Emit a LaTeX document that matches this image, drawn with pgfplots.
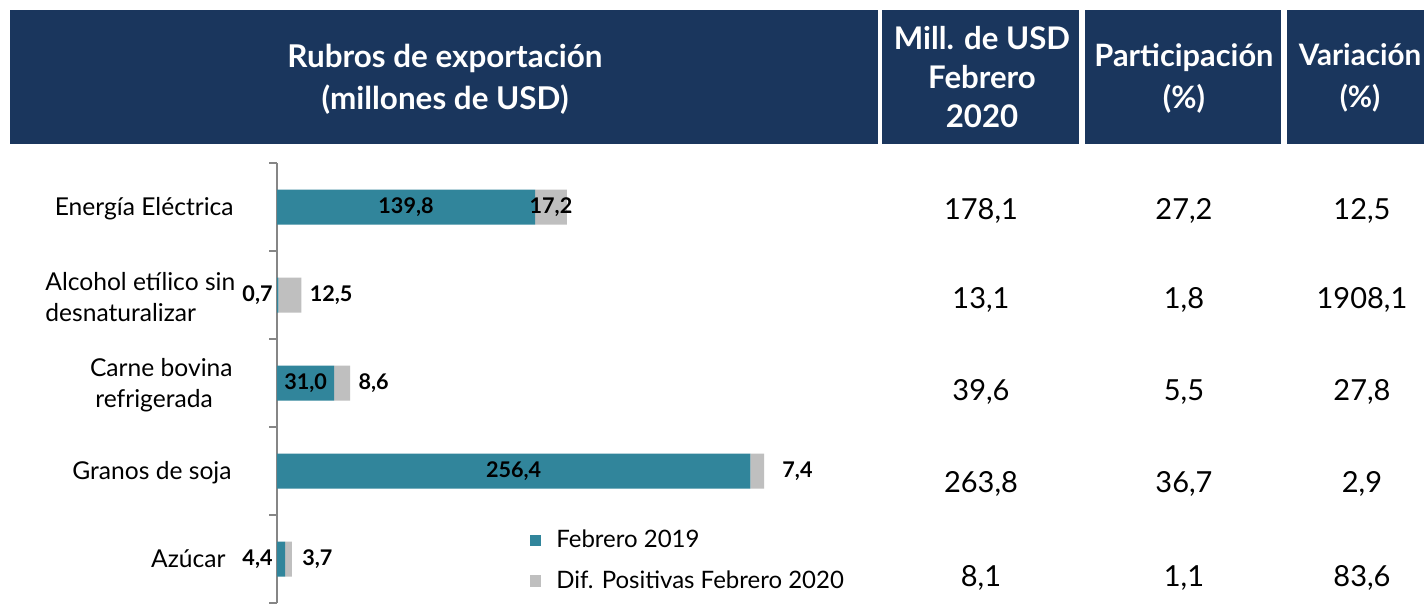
\documentclass[border=0pt]{standalone}
\usepackage{fontspec}
\setmainfont{Lato}
\usepackage{pgfplots}
\pgfplotsset{compat=1.18}
\definecolor{navy}{RGB}{26,54,93}
\definecolor{tealbar}{RGB}{49,133,155}
\definecolor{greybar}{RGB}{191,191,191}
\definecolor{axisgrey}{RGB}{134,134,134}
\tikzset{barlbl/.style={font=\bfseries\fontsize{10.8}{12}\selectfont, inner sep=0pt}}
\begin{document}
\begin{tikzpicture}
% pixel grid: 1px = 0.5pt, y downwards
\begin{scope}[x=0.5pt,y=-0.5pt]
\useasboundingbox (0,0) rectangle (1424,600);
\fill[white] (0,0) rectangle (1424,600);
\fill[navy] (10,10) rectangle (878,144);
\fill[navy] (882,10) rectangle (1079,144);
\fill[navy] (1085,10) rectangle (1281,144);
\fill[navy] (1287,10) rectangle (1440,144);
\node[white,font=\bfseries\fontsize{15.7}{21}\selectfont,align=center] at (445,79) {Rubros de exportación\\(millones de USD)};
\node[white,font=\bfseries\fontsize{15.6}{19.5}\selectfont,align=center] at (982,77) {Mill. de USD\\Febrero\\2020};
\node[white,font=\bfseries\fontsize{15.4}{21}\selectfont,align=center] at (1184,78) {Participación\\(\%)};
\node[white,font=\bfseries\fontsize{14.8}{21}\selectfont,align=center] at (1360,78) {Variación\\(\%)};
% category names
\tikzset{cat/.style={font=\fontsize{12.3}{15.5}\selectfont, inner sep=0pt}}
\node[cat,anchor=east] at (234,209) {Energía Eléctrica};
\node[cat,anchor=west,align=left] at (45,297) {Alcohol etílico sin\\desnaturalizar};
\node[cat,anchor=east] at (233,368) {Carne bovina};
\node[cat,anchor=west] at (95,401) {refrigerada};
\node[cat,anchor=east] at (232,473) {Granos de soja};
\node[cat,anchor=east] at (226,559) {Azúcar};
% table columns
\tikzset{val/.style={font=\fontsize{14.5}{17}\selectfont}}
\node[val] at (981,211) {178,1};  \node[val] at (1184,211) {27,2}; \node[val] at (1362,211) {12,5};
\node[val] at (981,300) {13,1};   \node[val] at (1184,300) {1,8};  \node[val] at (1362,300) {1908,1};
\node[val] at (981,392) {39,6};   \node[val] at (1184,392) {5,5};  \node[val] at (1362,392) {27,8};
\node[val] at (981,484) {263,8};  \node[val] at (1184,484) {36,7}; \node[val] at (1362,484) {2,9};
\node[val] at (981,578) {8,1};    \node[val] at (1184,578) {1,1};  \node[val] at (1362,578) {83,6};
\end{scope}

\begin{axis}[
  at={(138.5pt,-81.5pt)}, anchor=north west,
  scale only axis, width=300pt, height=220pt,
  xbar stacked, bar width=17.5pt,
  xmin=0, xmax=325, ymin=-0.5, ymax=4.5,
  y dir=reverse,
  axis x line=none,
  axis y line*=left,
  y axis line style={axisgrey, line width=0.8pt},
  ytick={-0.5,0.5,1.5,2.5,3.5,4.5},
  yticklabels={},
  tick align=outside,
  major tick length=4pt,
  ytick style={axisgrey, line width=0.8pt},
  clip=false,
  legend style={at={(axis cs:137,3.62)}, anchor=north west, draw=none, fill=none,
    inner sep=0pt, font=\fontsize{12}{13}\selectfont, row sep=6pt,
    legend cell align=left,
    /tikz/every odd column/.append style={column sep=5.5pt}},
  legend image code/.code={\draw[#1,draw=none] (0pt,-2.9pt) rectangle (5.5pt,2.9pt);},
]
\addplot[fill=tealbar, draw=none] coordinates {
  (139.8,0) (0.7,1) (31.0,2) (256.4,3) (4.4,4)};
\addplot[fill=greybar, draw=none] coordinates {
  (17.2,0) (12.5,1) (8.6,2) (7.4,3) (3.7,4)};
\legend{Febrero 2019, Dif. Positivas Febrero 2020}
% anchor points for the value labels, drawn after the bars
\coordinate (a0) at (axis cs:69.9,0);
\coordinate (b0) at (axis cs:148.4,0);
\coordinate (a1) at (axis cs:0,1);
\coordinate (b1) at (axis cs:13.2,1);
\coordinate (a2) at (axis cs:15.5,2);
\coordinate (b2) at (axis cs:39.6,2);
\coordinate (a3) at (axis cs:128.2,3);
\coordinate (b3) at (axis cs:263.8,3);
\coordinate (a4) at (axis cs:0,4);
\coordinate (b4) at (axis cs:8.1,4);
\end{axis}
\node[barlbl] at (a0) {139,8};
\node[barlbl] at (b0) {17,2};
\node[barlbl,anchor=east,xshift=-2pt] at (a1) {0,7};
\node[barlbl,anchor=west,xshift=4pt] at (b1) {12,5};
\node[barlbl] at (a2) {31,0};
\node[barlbl,anchor=west,xshift=4pt] at (b2) {8,6};
\node[barlbl] at (a3) {256,4};
\node[barlbl,anchor=west,xshift=9pt] at (b3) {7,4};
\node[barlbl,anchor=east,xshift=-2pt] at (a4) {4,4};
\node[barlbl,anchor=west,xshift=5pt] at (b4) {3,7};
\end{tikzpicture}
\end{document}
